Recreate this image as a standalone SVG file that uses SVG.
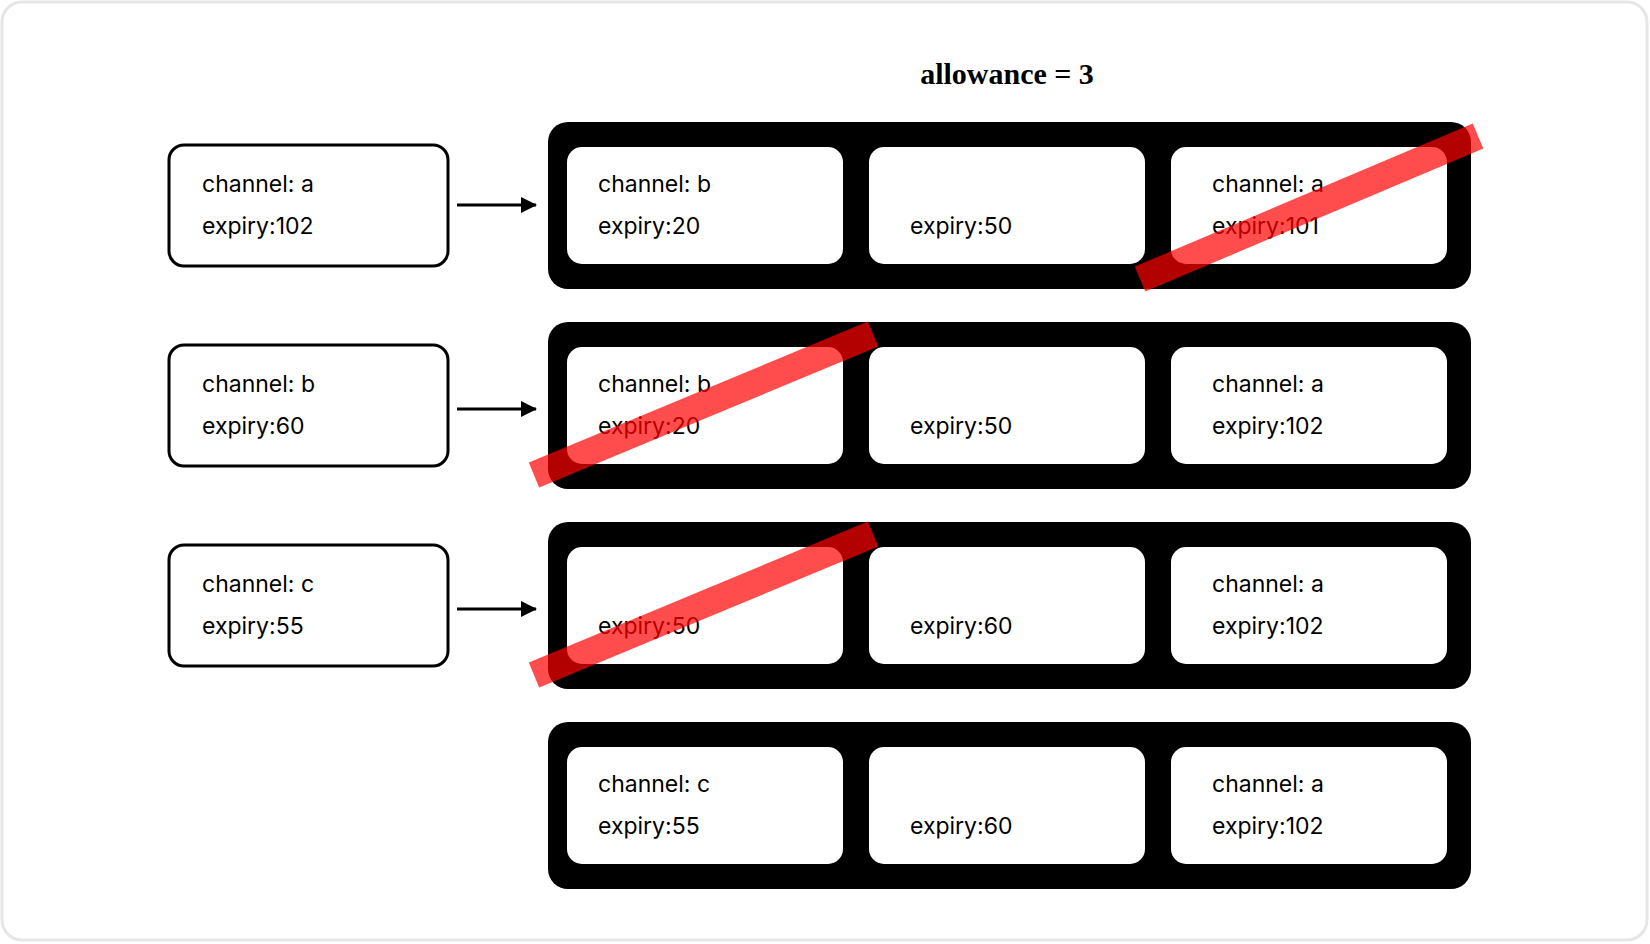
<svg xmlns="http://www.w3.org/2000/svg" width="1650" height="944" viewBox="0 0 1650 944">
<defs>
<style>
.frame{fill:#fff;stroke:#e6e6e6;stroke-width:3}
.cont{fill:#000}
.card{fill:#fff}
.inp{fill:#fff;stroke:#000;stroke-width:3}
.t{font-family:Inter,"Liberation Sans",sans-serif;font-size:23px;fill:#000}
.title{font-family:"Liberation Serif",serif;font-size:30px;font-weight:bold;fill:#000}
.strike{stroke:#ff0000;stroke-opacity:0.7;stroke-width:27}
.arr{stroke:#000;stroke-width:3;fill:none}
</style>
<marker id="ah" markerWidth="10" markerHeight="10" refX="9" refY="5" orient="auto" markerUnits="userSpaceOnUse" viewBox="0 0 10 10"><path d="M0,0 L10,5 L0,10 z" fill="#000"/></marker>
<marker id="ah2" markerWidth="16" markerHeight="16" refX="15" refY="8" orient="auto" markerUnits="userSpaceOnUse" viewBox="0 0 16 16"><path d="M0,0 L16,8 L0,16 z" fill="#000"/></marker>
</defs>
<rect class="frame" x="2" y="2" width="1645" height="938" rx="20"/>
<text class="title" x="1007" y="84" text-anchor="middle">allowance = 3</text>
<g id="in1"><rect class="inp" x="169" y="145" width="279" height="121" rx="15"/><text class="t" x="202" y="192">channel: a</text><text class="t" x="202" y="234">expiry:102</text></g>
<g id="in2"><rect class="inp" x="169" y="345" width="279" height="121" rx="15"/><text class="t" x="202" y="392">channel: b</text><text class="t" x="202" y="434">expiry:60</text></g>
<g id="in3"><rect class="inp" x="169" y="545" width="279" height="121" rx="15"/><text class="t" x="202" y="592">channel: c</text><text class="t" x="202" y="634">expiry:55</text></g>
<g id="row1"><rect class="cont" x="548" y="122" width="923" height="167" rx="20"/>
<rect class="card" x="567" y="147" width="276" height="117" rx="15"/><rect class="card" x="869" y="147" width="276" height="117" rx="15"/><rect class="card" x="1171" y="147" width="276" height="117" rx="15"/>
<text class="t" x="598" y="192">channel: b</text><text class="t" x="598" y="234">expiry:20</text><text class="t" x="910" y="234">expiry:50</text><text class="t" x="1212" y="192">channel: a</text><text class="t" x="1212" y="234">expiry:101</text></g>
<g id="row2"><rect class="cont" x="548" y="322" width="923" height="167" rx="20"/>
<rect class="card" x="567" y="347" width="276" height="117" rx="15"/><rect class="card" x="869" y="347" width="276" height="117" rx="15"/><rect class="card" x="1171" y="347" width="276" height="117" rx="15"/>
<text class="t" x="598" y="392">channel: b</text><text class="t" x="598" y="434">expiry:20</text><text class="t" x="910" y="434">expiry:50</text><text class="t" x="1212" y="392">channel: a</text><text class="t" x="1212" y="434">expiry:102</text></g>
<g id="row3"><rect class="cont" x="548" y="522" width="923" height="167" rx="20"/>
<rect class="card" x="567" y="547" width="276" height="117" rx="15"/><rect class="card" x="869" y="547" width="276" height="117" rx="15"/><rect class="card" x="1171" y="547" width="276" height="117" rx="15"/>
<text class="t" x="598" y="634">expiry:50</text><text class="t" x="910" y="634">expiry:60</text><text class="t" x="1212" y="592">channel: a</text><text class="t" x="1212" y="634">expiry:102</text></g>
<g id="row4"><rect class="cont" x="548" y="722" width="923" height="167" rx="20"/>
<rect class="card" x="567" y="747" width="276" height="117" rx="15"/><rect class="card" x="869" y="747" width="276" height="117" rx="15"/><rect class="card" x="1171" y="747" width="276" height="117" rx="15"/>
<text class="t" x="598" y="792">channel: c</text><text class="t" x="598" y="834">expiry:55</text><text class="t" x="910" y="834">expiry:60</text><text class="t" x="1212" y="792">channel: a</text><text class="t" x="1212" y="834">expiry:102</text></g>
<g id="connectors">
<line class="arr" x1="457" y1="205" x2="536" y2="205" marker-end="url(#ah2)"/>
<line class="arr" x1="457" y1="409" x2="536" y2="409" marker-end="url(#ah2)"/>
<line class="arr" x1="457" y1="609" x2="536" y2="609" marker-end="url(#ah2)"/>
</g>
<g id="strikes">
<line class="strike" x1="1140" y1="279" x2="1478" y2="136"/>
<line class="strike" x1="534" y1="475" x2="873" y2="334"/>
<line class="strike" x1="534" y1="675" x2="873" y2="534"/>
</g>
</svg>
